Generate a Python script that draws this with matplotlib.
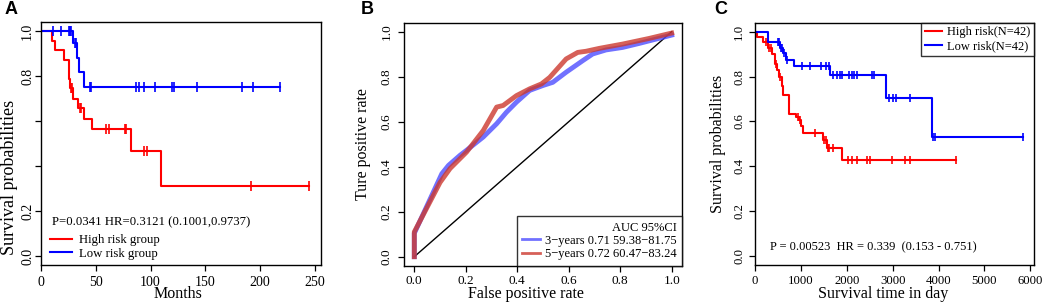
import numpy as np
import matplotlib
matplotlib.use("Agg")
import matplotlib.pyplot as plt
from matplotlib.lines import Line2D

plt.rcParams['font.family'] = ['Liberation Serif', 'DejaVu Serif']

# ---------------- Data ----------------
# Panel A (months)
a_high_t = [0, 10, 12.5, 21, 25.2, 26.8, 29.2, 33.8, 38.9, 46.5, 82.4, 109.5, 245]
a_high_s = [1.0, 0.956, 0.914, 0.871, 0.785, 0.745, 0.700, 0.656, 0.609, 0.563, 0.467, 0.312, 0.312]
a_high_cens = [27.5, 28.6, 35.3, 36.8, 59.6, 61.8, 76.9, 77.9, 94.3, 96.4, 192, 245]
a_low_t = [0, 29.2, 32.8, 34.7, 38.9, 218]
a_low_s = [1.0, 0.945, 0.879, 0.816, 0.752, 0.752]
a_low_cens = [11, 18, 25.3, 26.2, 27.2, 30.8, 32.3, 45, 46, 86.4, 89.4, 94, 104.3,
              119.8, 121.6, 142, 183, 193, 218]

# Panel B (ROC)
roc3_fpr = [0, 0, 0.107, 0.133, 0.178, 0.203, 0.268, 0.320, 0.358, 0.397, 0.448, 0.500,
            0.538, 0.590, 0.654, 0.693, 0.745, 0.809, 0.874, 1.0]
roc3_tpr = [0, 0.104, 0.369, 0.406, 0.451, 0.473, 0.532, 0.591, 0.642, 0.687, 0.739, 0.761,
            0.775, 0.820, 0.871, 0.901, 0.919, 0.930, 0.948, 0.985]
roc5_fpr = [0, 0, 0.100, 0.139, 0.203, 0.268, 0.320, 0.345, 0.397, 0.448, 0.494, 0.526,
            0.590, 0.635, 0.667, 0.719, 0.809, 0.912, 1.0]
roc5_tpr = [0, 0.110, 0.330, 0.392, 0.465, 0.561, 0.665, 0.672, 0.716, 0.746, 0.768, 0.797,
            0.879, 0.908, 0.913, 0.926, 0.945, 0.970, 0.994]
roc_labels = ["3\u2212years 0.71 59.38\u221281.75", "5\u2212years 0.72 60.47\u221283.24"]

# Panel C (days)
c_high_t = [0, 50, 180, 290, 365, 436, 473, 531, 582, 618, 745, 900, 960, 1010, 1055,
            1490, 1560, 1900, 4386]
c_high_s = [1.0, 0.976, 0.952, 0.927, 0.902, 0.857, 0.827, 0.797, 0.757, 0.716, 0.635,
            0.618, 0.605, 0.578, 0.548, 0.515, 0.480, 0.430, 0.430]
c_high_cens = [250, 300, 342, 450, 545, 940, 980, 1309, 1500, 1540, 1580, 1620, 1700,
               2036, 2109, 2232, 2450, 2509, 2996, 3273, 3367, 4386]
c_low_t = [0, 291, 540, 618, 676, 850, 1636, 2858, 3855, 5840]
c_low_s = [1.0, 0.952, 0.929, 0.905, 0.875, 0.845, 0.808, 0.705, 0.529, 0.529]
c_low_cens = [495, 520, 560, 590, 640, 690, 1018, 1200, 1433, 1549, 1615, 1709, 1782,
              1855, 1905, 2051, 2109, 2167, 2233, 2546, 2596, 2931, 3004, 3070, 3367,
              3877, 3927, 5840]

RED = '#ff0000'
BLUE = '#0000ff'
ROC_BLUE = (0.30, 0.30, 1.0)
ROC_RED = (0.80, 0.22, 0.18)


def km(ax, t, s, cens, color, ms):
    t = np.asarray(t, float)
    s = np.asarray(s, float)
    ax.step(t, s, where='post', color=color, lw=1.5)
    c = np.asarray(cens, float)
    idx = np.searchsorted(t, c, side='right') - 1
    ax.plot(c, s[idx], ls='none', marker='|', ms=ms, mew=1.2, color=color)


def style(ax, tsize):
    for sp in ax.spines.values():
        sp.set_linewidth(1.0)
        sp.set_color('black')
    ax.tick_params(direction='out', length=4, width=0.9, labelsize=tsize, colors='black')
    ax.tick_params(axis='y', labelrotation=90)
    for lab in ax.get_yticklabels():
        lab.set_va('center')


fig = plt.figure(figsize=(10.46, 3.06), dpi=100)
W, H = 1046.0, 306.0


def axes_px(l, t, r, b):
    return fig.add_axes([l / W, 1 - b / H, (r - l) / W, (b - t) / H])


# ---------------- Panel A ----------------
axA = axes_px(41, 22, 321, 265)
km(axA, a_high_t, a_high_s, a_high_cens, RED, 7)
km(axA, a_low_t, a_low_s, a_low_cens, BLUE, 7)
axA.set_xlim(0, 255.5)
axA.set_ylim(-0.04, 1.04)
axA.set_xticks([0, 50, 100, 150, 200, 250])
axA.set_yticks([0.0, 0.2, 0.4, 0.6, 0.8, 1.0])
axA.set_yticklabels(['0.0', '0.2', '', '', '0.8', '1.0'])
style(axA, 10)
axA.tick_params(axis='x', pad=4)
axA.tick_params(axis='y', pad=1)
axA.set_xlabel('Months', fontsize=11.5)
axA.xaxis.set_label_coords(0.49, -0.118)
axA.xaxis.label.set_va('center')
axA.set_ylabel('Survival probabilities', fontsize=13)
axA.yaxis.set_label_coords(-0.111, 0.36)
axA.yaxis.label.set_va('center')
axA.text(10, 0.151, 'P=0.0341 HR=0.3121 (0.1001,0.9737)', fontsize=9.2, va='center',
         ha='left')
legA = axA.legend([Line2D([], [], color=RED, lw=1.5), Line2D([], [], color=BLUE, lw=1.5)],
                  ['High risk group', 'Low risk group'], loc='lower left',
                  bbox_to_anchor=(0.0, -0.015), frameon=False, fontsize=9.2,
                  handlelength=1.7, handletextpad=0.6, labelspacing=0.12, borderaxespad=0.3)

# ---------------- Panel B ----------------
axB = axes_px(404, 22.7, 682, 265.7)
axB.plot([0, 1], [0, 1], color='black', lw=1.0)
axB.plot(roc3_fpr, roc3_tpr, color=ROC_BLUE, alpha=0.8, lw=3.5, solid_joinstyle='round')
axB.plot(roc5_fpr, roc5_tpr, color=ROC_RED, alpha=0.8, lw=3.5, solid_joinstyle='round')
axB.set_xlim(-0.04, 1.04)
axB.set_ylim(-0.04, 1.04)
ticks = [0.0, 0.2, 0.4, 0.6, 0.8, 1.0]
axB.set_xticks(ticks)
axB.set_yticks(ticks)
axB.set_xticklabels(['%.1f' % v for v in ticks])
axB.set_yticklabels(['%.1f' % v for v in ticks])
style(axB, 9.5)
axB.tick_params(axis='x', pad=3)
axB.tick_params(axis='y', pad=4)
axB.set_xlabel('False positive rate', fontsize=11.5)
axB.xaxis.set_label_coords(0.44, -0.115)
axB.xaxis.label.set_va('center')
axB.set_ylabel('Ture positive rate', fontsize=11.5)
axB.yaxis.set_label_coords(-0.147, 0.5)
axB.yaxis.label.set_va('center')
legB = axB.legend([Line2D([], [], color=ROC_BLUE, alpha=0.8, lw=2),
                   Line2D([], [], color=ROC_RED, alpha=0.8, lw=2)],
                  roc_labels, title='AUC 95%CI', loc='lower right', fontsize=9,
                  title_fontsize=9, frameon=True, fancybox=False, borderaxespad=0,
                  handlelength=1.4, handletextpad=0.4, labelspacing=0.1,
                  borderpad=0.45, alignment='right')
legB.get_frame().set_edgecolor('black')
legB.get_frame().set_linewidth(1.0)

# ---------------- Panel C ----------------
axC = axes_px(755, 22.7, 1034, 265)
km(axC, c_high_t, c_high_s, c_high_cens, RED, 5.5)
km(axC, c_low_t, c_low_s, c_low_cens, BLUE, 5.5)
axC.set_xlim(0, 6080)
axC.set_ylim(-0.04, 1.04)
axC.set_xticks([0, 1000, 2000, 3000, 4000, 5000, 6000])
axC.set_yticks(ticks)
axC.set_yticklabels(['%.1f' % v for v in ticks])
style(axC, 9.2)
axC.tick_params(axis='x', pad=3)
axC.tick_params(axis='y', pad=3)
axC.set_xlabel('Survival time in day', fontsize=11.5)
axC.xaxis.set_label_coords(0.459, -0.12)
axC.xaxis.label.set_va('center')
axC.set_ylabel('Survival probabilities', fontsize=11.5)
axC.yaxis.set_label_coords(-0.133, 0.5)
axC.yaxis.label.set_va('center')
axC.text(330, 0.04, 'P = 0.00523  HR = 0.339  (0.153 - 0.751)', fontsize=9,
         va='center', ha='left')
legC = axC.legend([Line2D([], [], color=RED, lw=1.5), Line2D([], [], color=BLUE, lw=1.5)],
                  ['High risk(N=42)', 'Low risk(N=42)'], loc='upper right', fontsize=9,
                  frameon=True, fancybox=False, borderaxespad=0, handlelength=1.4,
                  handletextpad=0.4, labelspacing=0.12, borderpad=0.3)
legC.get_frame().set_edgecolor('black')
legC.get_frame().set_linewidth(1.0)

# Panel letters
for x, lab in [(5, 'A'), (361, 'B'), (714, 'C')]:
    fig.text(x / W, 1 - 10 / H, lab, fontsize=13, fontweight='bold',
             family='Liberation Sans', va='center', ha='left')

fig.savefig('out.png', dpi=100)
